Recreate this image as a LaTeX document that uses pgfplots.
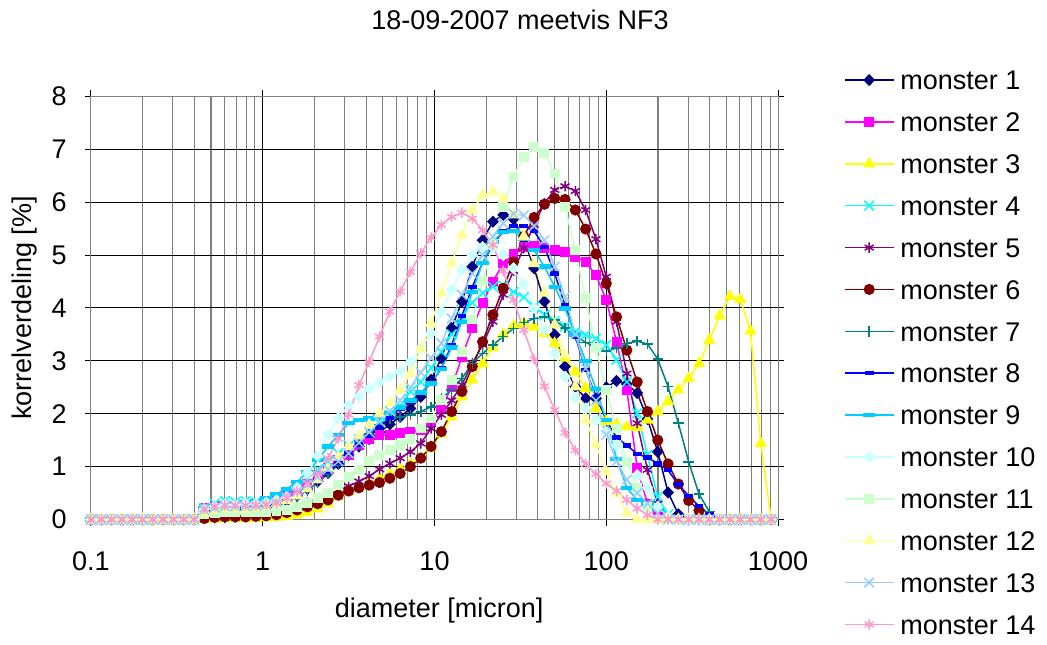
\documentclass[border=0pt]{standalone}
\usepackage{fontspec}
\setmainfont{Liberation Sans}
\usepackage{pgfplots}
\usepackage{pgfplotstable}
\pgfplotsset{compat=1.18}
\newcommand\fs{\fontsize{13.5pt}{16pt}\selectfont}

\definecolor{c1}{HTML}{000080}
\definecolor{c2}{HTML}{FF00FF}
\definecolor{c3}{HTML}{FFFF00}
\definecolor{c4}{HTML}{00FFFF}
\definecolor{c5}{HTML}{800080}
\definecolor{c6}{HTML}{800000}
\definecolor{c7}{HTML}{008080}
\definecolor{c8}{HTML}{0000FF}
\definecolor{c9}{HTML}{00CCFF}
\definecolor{c10}{HTML}{CCFFFF}
\definecolor{c11}{HTML}{CCFFCC}
\definecolor{c12}{HTML}{FFFF99}
\definecolor{c13}{HTML}{99CCFF}
\definecolor{c14}{HTML}{FF99CC}

% particle size distribution per sample, diameter in micron, fraction in %
\pgfplotstableread{
d      m1   m2   m3   m4   m5   m6   m7   m8   m9   m10  m11  m12  m13  m14
0.1    0    0    0    0    0    0    0    0    0    0    0    0    0    0
0.1148 0    0    0    0    0    0    0    0    0    0    0    0    0    0
0.1318 0    0    0    0    0    0    0    0    0    0    0    0    0    0
0.1514 0    0    0    0    0    0    0    0    0    0    0    0    0    0
0.1738 0    0    0    0    0    0    0    0    0    0    0    0    0    0
0.1995 0    0    0    0    0    0    0    0    0    0    0    0    0    0
0.2291 0    0    0    0    0    0    0    0    0    0    0    0    0    0
0.2630 0    0    0    0    0    0    0    0    0    0    0    0    0    0
0.3020 0    0    0    0    0    0    0    0    0    0    0    0    0    0
0.3467 0    0    0    0    0    0    0    0    0    0    0    0    0    0
0.3981 0    0    0    0    0    0    0    0    0    0    0    0    0    0
0.4571 0.15 0.22 0.00 0.22 0.02 0.02 0.15 0.15 0.22 0.20 0.10 0.12 0.18 0.20
0.5248 0.18 0.25 0.01 0.30 0.03 0.04 0.20 0.18 0.28 0.25 0.12 0.18 0.22 0.25
0.6026 0.20 0.26 0.02 0.35 0.03 0.05 0.22 0.20 0.30 0.28 0.14 0.20 0.25 0.27
0.6918 0.20 0.25 0.02 0.33 0.04 0.05 0.22 0.20 0.30 0.28 0.14 0.20 0.25 0.27
0.7943 0.20 0.25 0.02 0.35 0.05 0.05 0.22 0.20 0.32 0.30 0.14 0.20 0.25 0.27
0.9120 0.20 0.26 0.02 0.33 0.06 0.06 0.22 0.21 0.35 0.30 0.15 0.22 0.26 0.27
1.047  0.22 0.28 0.03 0.35 0.08 0.07 0.23 0.23 0.40 0.32 0.15 0.25 0.28 0.28
1.202  0.27 0.35 0.04 0.40 0.12 0.09 0.26 0.28 0.48 0.36 0.16 0.30 0.33 0.31
1.380  0.35 0.45 0.06 0.50 0.18 0.13 0.33 0.36 0.58 0.42 0.18 0.36 0.42 0.40
1.585  0.45 0.55 0.09 0.62 0.25 0.18 0.43 0.46 0.71 0.60 0.24 0.45 0.53 0.53
1.820  0.58 0.68 0.13 0.78 0.32 0.24 0.55 0.60 0.90 0.88 0.31 0.58 0.66 0.68
2.089  0.72 0.83 0.20 0.95 0.40 0.30 0.70 0.75 1.12 1.20 0.40 0.75 0.80 0.87
2.399  0.88 0.98 0.30 1.10 0.47 0.37 0.86 0.90 1.38 1.60 0.50 0.97 0.95 1.16
2.754  1.05 1.12 0.43 1.25 0.55 0.46 1.03 1.07 1.60 1.92 0.65 1.18 1.10 1.53
3.162  1.22 1.22 0.52 1.40 0.63 0.54 1.22 1.25 1.82 2.16 0.81 1.38 1.25 1.98
3.631  1.38 1.41 0.60 1.52 0.72 0.60 1.42 1.42 1.88 2.32 0.94 1.58 1.45 2.54
4.169  1.52 1.53 0.70 1.65 0.82 0.65 1.62 1.58 1.91 2.48 1.10 1.79 1.65 2.98
4.786  1.65 1.60 0.78 1.82 0.95 0.70 1.80 1.75 1.95 2.60 1.22 2.00 1.85 3.46
5.495  1.80 1.60 0.86 1.98 1.06 0.78 1.90 1.92 2.02 2.70 1.31 2.20 2.05 3.93
6.310  1.94 1.63 0.95 2.15 1.16 0.87 1.94 2.10 2.12 2.80 1.41 2.45 2.25 4.31
7.244  2.10 1.66 1.05 2.42 1.28 1.00 1.98 2.23 2.25 2.98 1.53 2.76 2.50 4.68
8.318  2.32 1.69 1.16 2.60 1.44 1.16 2.04 2.40 2.40 3.24 1.72 3.22 2.78 5.03
9.550  2.64 1.85 1.35 2.86 1.72 1.38 2.13 2.57 2.57 3.52 1.91 3.71 3.05 5.33
10.96  3.05 2.10 1.62 3.17 1.98 1.66 2.29 2.86 2.85 3.93 2.26 4.28 3.33 5.57
12.59  3.62 2.50 1.94 3.50 2.25 2.04 2.45 3.30 3.25 4.34 2.64 4.85 3.80 5.72
14.45  4.12 3.08 2.32 3.85 2.55 2.42 2.67 3.85 3.74 4.72 3.17 5.38 4.25 5.80
16.60  4.78 3.61 2.64 4.10 2.95 2.89 2.95 4.40 4.30 5.00 3.78 5.85 4.65 5.69
19.05  5.28 4.09 2.95 4.28 3.30 3.36 3.14 4.85 4.85 5.15 4.51 6.13 5.00 5.47
21.88  5.63 4.50 3.25 4.40 3.74 3.87 3.30 5.20 5.25 5.15 5.20 6.20 5.35 5.19
25.12  5.76 4.84 3.50 4.42 4.25 4.37 3.46 5.45 5.44 5.00 5.91 6.07 5.60 4.70
28.84  5.68 5.02 3.66 4.30 4.70 4.87 3.61 5.55 5.45 4.75 6.48 5.76 5.78 4.15
33.11  5.30 5.15 3.71 4.20 5.13 5.35 3.72 5.55 5.30 4.45 6.86 5.35 5.75 3.58
38.02  4.75 5.17 3.64 4.02 5.57 5.71 3.80 5.45 5.09 4.00 7.05 4.84 5.55 3.03
43.65  4.12 5.13 3.52 3.87 5.98 5.96 3.83 5.15 4.78 3.58 6.93 4.28 5.28 2.52
50.12  3.49 5.09 3.33 3.75 6.23 6.07 3.77 4.65 4.40 3.14 6.54 3.68 4.78 2.07
57.54  2.89 5.06 3.05 3.65 6.30 6.05 3.62 4.05 3.99 2.70 5.91 3.11 4.21 1.64
66.07  2.51 4.97 2.79 3.55 6.21 5.85 3.47 3.46 3.50 2.30 5.09 2.51 3.50 1.31
75.86  2.29 4.87 2.48 3.49 5.85 5.49 3.35 2.83 3.00 2.10 4.18 1.88 2.85 1.05
87.10  2.29 4.62 2.10 3.42 5.30 5.02 3.25 2.32 2.47 1.88 3.24 1.41 2.25 0.86
100.0  2.50 4.15 1.85 3.30 4.59 4.46 3.18 1.88 1.88 1.65 2.45 0.90 1.60 0.68
114.8  2.62 3.36 1.80 3.02 3.74 3.83 3.24 1.55 1.15 1.40 1.72 0.50 1.10 0.54
131.8  2.56 2.45 1.75 2.60 2.76 3.20 3.33 1.40 0.60 1.10 1.09 0.12 0.75 0.37
151.4  2.39 0.97 1.74 2.01 1.82 2.60 3.37 1.24 0.37 0.84 0.59 0.00 0.50 0.21
173.8  1.90 0.30 1.88 1.22 0.94 2.04 3.32 1.17 0.30 0.60 0.24 0.00 0.30 0.09
199.5  1.28 0.05 2.04 0.43 0.30 1.50 3.03 1.06 0.20 0.24 0.00 0.00 0.12 0.00
229.1  0.51 0.00 2.23 0.10 0.05 1.05 2.51 0.93 0.05 0.05 0.00 0.00 0.00 0.00
263.0  0.10 0.00 2.45 0.00 0.00 0.67 1.82 0.66 0.00 0.00 0.00 0.00 0.00 0.00
302.0  0.00 0.00 2.67 0.00 0.00 0.36 1.09 0.45 0.00 0.00 0.00 0.00 0.00 0.00
346.7  0.00 0.00 2.95 0.00 0.00 0.17 0.48 0.25 0.00 0.00 0.00 0.00 0.00 0.00
398.1  0.00 0.00 3.39 0.00 0.00 0.00 0.15 0.10 0.00 0.00 0.00 0.00 0.00 0.00
457.1  0.00 0.00 3.85 0.00 0.00 0.00 0.00 0.00 0.00 0.00 0.00 0.00 0.00 0.00
524.8  0.00 0.00 4.22 0.00 0.00 0.00 0.00 0.00 0.00 0.00 0.00 0.00 0.00 0.00
602.6  0.00 0.00 4.16 0.00 0.00 0.00 0.00 0.00 0.00 0.00 0.00 0.00 0.00 0.00
691.8  0.00 0.00 3.56 0.00 0.00 0.00 0.00 0.00 0.00 0.00 0.00 0.00 0.00 0.00
794.3  0.00 0.00 1.44 0.00 0.00 0.00 0.00 0.00 0.00 0.00 0.00 0.00 0.00 0.00
912.0  0.00 0.00 0.00 0.00 0.00 0.00 0.00 0.00 0.00 0.00 0.00 0.00 0.00 0.00
}\korrel

\begin{document}
\begin{tikzpicture}
\useasboundingbox (-45.5pt,-62.25pt) rectangle (478pt,259.75pt);
\begin{axis}[
  at={(0pt,0pt)}, anchor=south west,
  scale only axis, width=343.5pt, height=211.6pt,
  xmode=log, log basis x=10,
  xmin=0.1, xmax=1000, ymin=0, ymax=8,
  xtick={0.1,1,10,100,1000},
  xticklabels={0.1,1,10,100,1000},
  minor xtick={0.2,0.3,0.4,0.5,0.6,0.7,0.8,0.9,2,3,4,5,6,7,8,9,20,30,40,50,60,70,80,90,200,300,400,500,600,700,800,900},
  ytick={0,1,2,3,4,5,6,7,8},
  grid=both,
  major grid style={black, line width=0.5pt},
  minor grid style={gray, line width=0.55pt},
  axis line style={gray, line width=0.5pt},
  tick align=outside, major tick length=3pt, minor tick length=0pt,
  tick style={black, line width=0.5pt},
  /pgf/number format/assume math mode=true,
  tick label style={font=\fs},
  xticklabel style={anchor=north, inner sep=0pt, yshift=-13.1pt},
  yticklabel style={anchor=east, inner sep=0pt, xshift=-9pt},
  title={18-09-2007 meetvis NF3},
  every axis title/.style={at={(axis description cs:0.6245,1.1567)}, anchor=base, font=\fs, inner sep=0pt},
  xlabel={diameter [micron]},
  xlabel style={at={(axis description cs:0.5066,-0.2304)}, anchor=base, font=\fs, inner sep=0pt},
  ylabel={korrelverdeling [\%]},
  ylabel style={at={(axis description cs:-0.0859,0.5)}, anchor=base, font=\fs, inner sep=0pt},
  legend cell align=left,
  legend style={at={(axis description cs:1.096,1.0614)}, anchor=north west,
    draw=none, fill=none, inner sep=0pt, outer sep=0pt,
    row sep=11.24pt, column sep=3pt, font=\fs,
    nodes={inner sep=0pt, text height=9.7pt, text depth=0pt}},
  legend image code/.code={\draw[mark repeat=2,mark phase=2] plot coordinates {(0pt,0pt) (12.25pt,0pt) (24.5pt,0pt)};},
  every axis plot/.append style={line width=0.75pt},
]
\addplot[color=c1, mark=diamond*, mark size=2.5pt, mark options={solid, xscale=1.3}] table[x=d, y=m1] {\korrel};
\addlegendentry{monster 1}
\addplot[color=c2, mark=square*, mark size=2.1pt, mark options={solid}] table[x=d, y=m2] {\korrel};
\addlegendentry{monster 2}
\addplot[color=c3, mark=triangle*, mark size=2.8pt, mark options={solid}] table[x=d, y=m3] {\korrel};
\addlegendentry{monster 3}
\addplot[color=c4, mark=x, mark size=3.4pt, mark options={solid}] table[x=d, y=m4] {\korrel};
\addlegendentry{monster 4}
\addplot[color=c5, mark=asterisk, mark size=2.6pt, mark options={solid}] table[x=d, y=m5] {\korrel};
\addlegendentry{monster 5}
\addplot[color=c6, mark=*, mark size=2.4pt, mark options={solid}] table[x=d, y=m6] {\korrel};
\addlegendentry{monster 6}
\addplot[color=c7, mark=+, mark size=2.6pt, mark options={solid}] table[x=d, y=m7] {\korrel};
\addlegendentry{monster 7}
\addplot[color=c8, mark=square*, mark size=2pt, mark options={solid, xscale=0.9, yscale=0.35}] table[x=d, y=m8] {\korrel};
\addlegendentry{monster 8}
\addplot[color=c9, mark=square*, mark size=2pt, mark options={solid, xscale=1.35, yscale=0.35}] table[x=d, y=m9] {\korrel};
\addlegendentry{monster 9}
\addplot[color=c10, mark=diamond*, mark size=2.5pt, mark options={solid, xscale=1.3}] table[x=d, y=m10] {\korrel};
\addlegendentry{monster 10}
\addplot[color=c11, mark=square*, mark size=2.1pt, mark options={solid}] table[x=d, y=m11] {\korrel};
\addlegendentry{monster 11}
\addplot[color=c12, mark=triangle*, mark size=2.8pt, mark options={solid}] table[x=d, y=m12] {\korrel};
\addlegendentry{monster 12}
\addplot[color=c13, mark=x, mark size=3.4pt, mark options={solid}] table[x=d, y=m13] {\korrel};
\addlegendentry{monster 13}
\addplot[color=c14, mark=asterisk, mark size=2.6pt, mark options={solid}] table[x=d, y=m14] {\korrel};
\addlegendentry{monster 14}
\end{axis}
\end{tikzpicture}
\end{document}
